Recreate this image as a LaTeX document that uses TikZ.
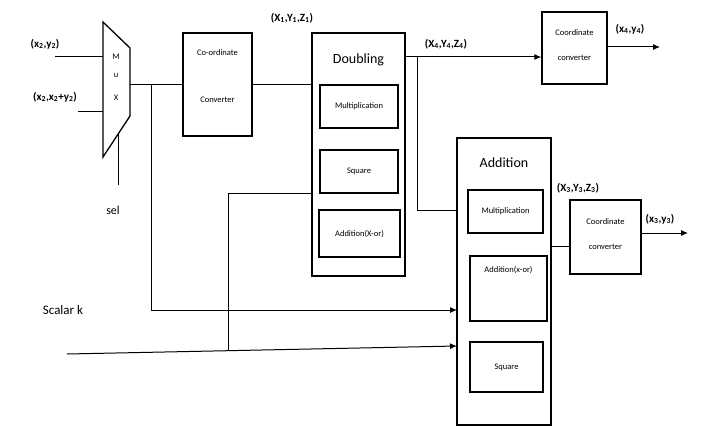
\documentclass[tikz,border=0pt]{standalone}
\usepackage{fontspec}
\setmainfont{Carlito}
\usetikzlibrary{arrows.meta}
\begin{document}
\begin{tikzpicture}[x=1pt,y=-1pt]
    \tikzset{blk/.style={draw, line width=1.3pt, inner sep=0pt, font=\fontsize{8.5}{9}\selectfont, align=center},
             lbl/.style={font=\bfseries\fontsize{11}{12}\selectfont, inner sep=1pt},
             txt/.style={font=\fontsize{8.5}{9}\selectfont, inner sep=1pt},
             ttl/.style={font=\fontsize{14}{15}\selectfont, inner sep=1pt},
             wire/.style={line width=1pt},
             arr/.style={wire, -{Latex[length=7pt,width=6pt]}}}
    \useasboundingbox (0,0) rectangle (701,428);

    % ---- Multiplexer ----
    \coordinate (m1) at (103,22);
    \coordinate (m2) at (130,48);
    \coordinate (m3) at (130,116);
    \coordinate (m4) at (103,157);
    \draw[line width=1.3pt] (m1)--(m2)--(m3)--(m4)--cycle;
    \node[txt] (mu1) at (116,57) {M};
    \node[txt] (mu2) at (116,76) {u};
    \node[txt] (mu3) at (116,98) {X};

    \node[lbl] (in1) at (45,44) {(x\textsubscript{2},y\textsubscript{2})};
    \node[lbl] (in2) at (55,97) {(x\textsubscript{2},x\textsubscript{2}+y\textsubscript{2})};
    \coordinate (i1) at (55,57);
    \coordinate (i2) at (78,111);
    \draw[wire] (i1) -- (i1 -| m1);
    \draw[wire] (i2) -- (i2 -| m1);

    \coordinate (s1) at (118,185);
    \coordinate (s2) at (118,134);
    \draw[wire] (s1) -- (s2);
    \node[font=\fontsize{12}{13}\selectfont] (sel) at (113,210) {sel};

    % ---- Doubling path ----
    \node[blk, minimum width=69pt, minimum height=103pt] (conv1) at (217.5,84.5) {};
    \node[txt] (c1a) at (217.5,53) {Co-ordinate};
    \node[txt] (c1b) at (217.5,100) {Converter};

    \node[blk, minimum width=93pt, minimum height=243pt] (dbl) at (358.5,154.5) {};
    \node[ttl] (dblt) at (358.5,60) {Doubling};
    \node[blk, minimum width=78pt, minimum height=43pt] (dmul) at (359,106.5) {Multiplication};
    \node[blk, minimum width=78pt, minimum height=43pt] (dsq) at (359,171.5) {Square};
    \node[blk, minimum width=81pt, minimum height=47pt] (dadd) at (359.5,233.5) {Addition(X-or)};

    \draw[wire] (conv1.west -| m2) -- (conv1.west);
    \draw[wire] (conv1.east) -- (conv1.east -| dbl.west);
    \node[lbl] (p1) at (292,18) {(X\textsubscript{1},Y\textsubscript{1},Z\textsubscript{1})};

    \node[blk, minimum width=65pt, minimum height=72pt] (conv2) at (574.5,48) {};
    \node[txt] (c2a) at (574.5,33) {Coordinate};
    \node[txt] (c2b) at (574.5,58) {converter};
    \coordinate (d4) at (405,57);
    \draw[arr] (d4) -- (d4 -| conv2.west);
    \node[lbl] (p4) at (446,44) {(X\textsubscript{4},Y\textsubscript{4},Z\textsubscript{4})};
    \coordinate (o4) at (660,47);
    \draw[arr] (conv2.east |- o4) -- (o4);
    \node[lbl] (q4) at (630,29) {(x\textsubscript{4},y\textsubscript{4})};

    % ---- Addition path ----
    \node[blk, minimum width=94pt, minimum height=287pt] (add) at (504,281.5) {};
    \node[ttl] (addt) at (504,163) {Addition};
    \node[blk, minimum width=75pt, minimum height=43pt] (amul) at (505.5,211.5) {Multiplication};
    \node[blk, minimum width=77pt, minimum height=65pt] (aadd) at (508.5,288.5) {};
    \node[txt] (aaddt) at (508.5,270) {Addition(x-or)};
    \node[blk, minimum width=73pt, minimum height=50pt] (asq) at (506.5,367) {Square};

    \coordinate (b4) at (417,57);
    \coordinate (a1) at (457,210);
    \draw[wire] (b4) |- (a1);

    \node[blk, minimum width=71pt, minimum height=74pt] (conv3) at (605.5,237) {};
    \node[txt] (c3a) at (605.5,222) {Coordinate};
    \node[txt] (c3b) at (605.5,247) {converter};
    \coordinate (o3a) at (551,246);
    \draw[wire] (o3a) -- (o3a -| conv3.west);
    \node[lbl] (p3) at (578,188) {(X\textsubscript{3},Y\textsubscript{3},Z\textsubscript{3})};
    \coordinate (o3) at (688,233);
    \draw[arr] (conv3.east |- o3) -- (o3);
    \node[lbl] (q3) at (660,219) {(x\textsubscript{3},y\textsubscript{3})};

    % ---- Feed lines ----
    \coordinate (b1) at (151,84.5);
    \coordinate (a2) at (457,310);
    \draw[arr] (b1) |- (a2);

    \node[font=\fontsize{13}{14}\selectfont] (sk) at (63,310) {Scalar k};
    \coordinate (k1) at (67,354);
    \coordinate (k2) at (457,346);
    \draw[arr] (k1) -- (k2);

    \coordinate (t1) at (228,350.7);
    \coordinate (t2) at (312,193);
    \draw[wire] (t1) |- (t2);
\end{tikzpicture}
\end{document}
